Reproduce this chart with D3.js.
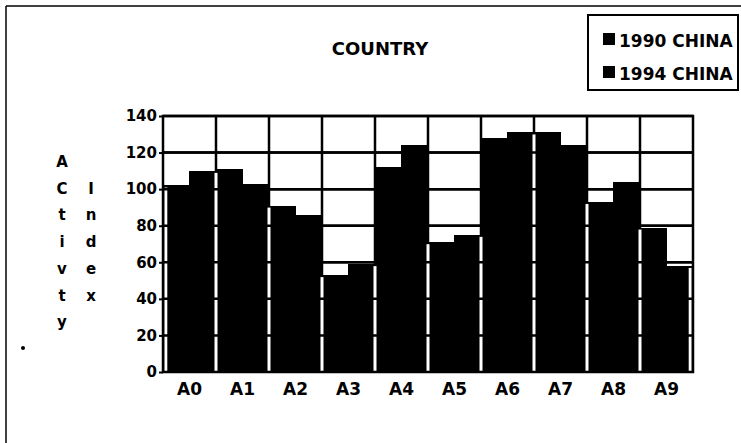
<!DOCTYPE html>
<html>
<head>
<meta charset="utf-8">
<script src="https://cdn.jsdelivr.net/npm/d3@7"></script>
<style>
  html, body { margin: 0; padding: 0; background: #fff; }
  svg { display: block; }
  text { font-family: "DejaVu Sans", sans-serif; font-weight: bold; fill: #000; }
</style>
</head>
<body>
<svg id="chart" width="741" height="443"></svg>
<script>
const categories = ["A0", "A1", "A2", "A3", "A4", "A5", "A6", "A7", "A8", "A9"];
const seriesNames = ["1990 CHINA", "1994 CHINA"];
const values1990 = [102, 111, 91, 53, 112, 71, 128, 131, 93, 79];
const values1994 = [110, 103, 86, 59, 124, 75, 131, 124, 104, 58];
const yTicks = [0, 20, 40, 60, 80, 100, 120, 140];
const titleText = "COUNTRY";
const yLabelCol1 = ["A", "C", "t", "i", "v", "t", "y"];
const yLabelCol2 = ["I", "n", "d", "e", "x"];

(function () {
const svg = d3.select("#chart");
const pL = 163, pR = 693, pT = 116, pB = 372;

const x = d3.scaleBand().domain(categories).range([pL, pR]).padding(0);
const xs = d3.scaleBand().domain(seriesNames).range([0, x.bandwidth()]).paddingOuter(0.04);
const y = d3.scaleLinear().domain([0, 140]).range([pB, pT]);

const rows = categories.map((c, i) => ({ cat: c, vals: [values1990[i], values1994[i]] }));

// outer frame (scan border)
svg.append("line").attr("x1", 6).attr("x2", 741).attr("y1", 6).attr("y2", 6)
  .attr("stroke", "#000").attr("stroke-width", 1.5);
svg.append("line").attr("x1", 6).attr("x2", 6).attr("y1", 6).attr("y2", 443)
  .attr("stroke", "#000").attr("stroke-width", 1.5);
svg.append("circle").attr("cx", 23).attr("cy", 348).attr("r", 2).attr("fill", "#000");

// title
svg.append("text").attr("x", 380).attr("y", 55).attr("text-anchor", "middle")
  .style("font-size", "18px").text(titleText);

// legend
const lg = svg.append("g");
lg.append("rect").attr("x", 588).attr("y", 15).attr("width", 150).attr("height", 75)
  .attr("fill", "#fff").attr("stroke", "#000").attr("stroke-width", 2);
seriesNames.forEach((s, i) => {
  lg.append("rect").attr("x", 603).attr("y", 33 + i * 33).attr("width", 12).attr("height", 12).attr("fill", "#000");
  lg.append("text").attr("x", 619).attr("y", 47 + i * 33).style("font-size", "17px").text(s);
});

// y label stacked letters
yLabelCol1.forEach((ch, k) => {
  svg.append("text").attr("x", 62).attr("y", 167 + 26.7 * k).attr("text-anchor", "middle")
    .style("font-size", "15px").text(ch);
});
yLabelCol2.forEach((ch, k) => {
  svg.append("text").attr("x", 91).attr("y", 167 + 26.7 * (k + 1)).attr("text-anchor", "middle")
    .style("font-size", "15px").text(ch);
});

// grid
const grid = svg.append("g").attr("stroke", "#000").attr("stroke-width", 2.5);
grid.selectAll("line.h").data(yTicks.slice(1)).join("line").attr("class", "h")
  .attr("x1", pL).attr("x2", pR).attr("y1", d => y(d)).attr("y2", d => y(d));
grid.selectAll("line.v").data(categories.slice(1)).join("line").attr("class", "v")
  .attr("x1", d => x(d)).attr("x2", d => x(d)).attr("y1", pT).attr("y2", pB);

// bars
const bars = svg.append("g").attr("shape-rendering", "crispEdges");
rows.forEach(r => {
  r.vals.forEach((v, j) => {
    const split = Math.round(xs(seriesNames[1]));
    const bx = x(r.cat) + (j === 0 ? 0 : split - 1);
    const bw = j === 0 ? split : x.bandwidth() - split + 1;
    bars.append("rect").attr("x", bx).attr("y", y(v)).attr("width", bw).attr("height", pB - y(v))
      .attr("fill", "#000");
  });
});

// white separations between category bars
const gaps = svg.append("g").attr("stroke", "#fff").attr("stroke-width", 3);
for (let i = 0; i <= categories.length; i++) {
  let gx, h;
  if (i === 0) { gx = pL + 2.8; h = rows[0].vals[0]; }
  else if (i === categories.length) { gx = pR - 2.8; h = rows[i - 1].vals[1]; }
  else { gx = x(categories[i]); h = Math.min(rows[i - 1].vals[1], rows[i].vals[0]); }
  gaps.append("line").attr("x1", gx).attr("x2", gx).attr("y1", pB).attr("y2", y(h) + 2);
}

// horizontal grid on top
const grid2 = svg.append("g").attr("stroke", "#000").attr("stroke-width", 2.5);
grid2.selectAll("line").data(yTicks.slice(1, -1)).join("line")
  .attr("x1", pL).attr("x2", pR).attr("y1", d => y(d)).attr("y2", d => y(d));

// plot frame
svg.append("rect").attr("x", pL).attr("y", pT).attr("width", pR - pL).attr("height", pB - pT)
  .attr("fill", "none").attr("stroke", "#000").attr("stroke-width", 2.5);

// axes
const yAxis = svg.append("g").attr("transform", `translate(${pL},0)`)
  .call(d3.axisLeft(y).tickValues(yTicks).tickSize(4).tickPadding(2));
yAxis.select(".domain").remove();
yAxis.selectAll(".tick line").attr("stroke", "#000").attr("stroke-width", 2);
yAxis.selectAll("text").style("font-size", "15px").attr("font-family", null);

const xAxis = svg.append("g").attr("transform", `translate(0,${pB})`)
  .call(d3.axisBottom(x).tickSize(0).tickPadding(11));
xAxis.select(".domain").remove();
xAxis.selectAll("text").style("font-size", "17px").attr("font-family", null);
})();
</script>
</body>
</html>
